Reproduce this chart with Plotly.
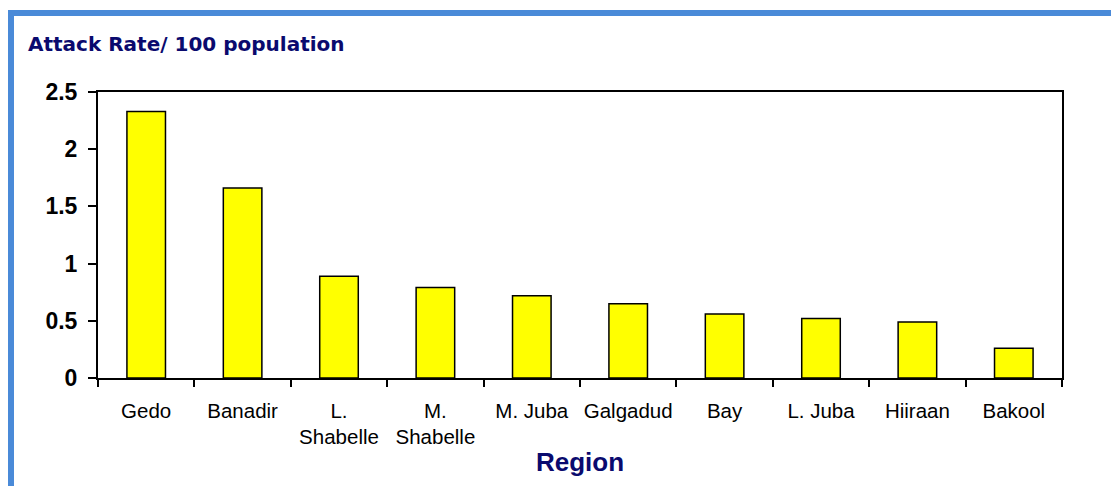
import plotly.graph_objects as go

regions = ["Gedo", "Banadir", "L.<br>Shabelle", "M.<br>Shabelle", "M. Juba",
           "Galgadud", "Bay", "L. Juba", "Hiiraan", "Bakool"]
attack_rate = [2.33, 1.66, 0.89, 0.79, 0.72, 0.65, 0.56, 0.52, 0.49, 0.26]
y_ticks = [0, 0.5, 1, 1.5, 2, 2.5]
y_tick_labels = ["0", "0.5", "1", "1.5", "2", "2.5"]

# page body has an 8px margin; figure coords = reference coords - 8
OFF = 8
W, H = 1119 - OFF, 486 - OFF
L, R, T, B = 98 - OFF, 57, 92 - OFF, 108
pw, ph = W - L - R, H - T - B

def px(x):
    return (x - OFF - L) / pw

def py(y):
    return (H - B - (y - OFF)) / ph

fig = go.Figure(go.Bar(
    x=regions, y=attack_rate,
    marker=dict(color="#FFFF00", line=dict(color="black", width=1.5)),
    width=0.4,
))

border = "#4A8AD8"
fig.add_shape(type="rect", xref="paper", yref="paper",
              x0=px(8), x1=px(14), y0=py(500), y1=py(10),
              fillcolor=border, line_width=0, layer="below")
fig.add_shape(type="rect", xref="paper", yref="paper",
              x0=px(8), x1=px(1130), y0=py(16), y1=py(10),
              fillcolor=border, line_width=0, layer="below")

fig.add_annotation(text="<b>Attack Rate/ 100 population</b>", xref="paper", yref="paper",
                   x=px(26), y=py(44), xanchor="left", yanchor="middle", showarrow=False,
                   font=dict(family="DejaVu Sans", size=20, color="#0A0A6E"))

fig.update_layout(
    width=W, height=H,
    margin=dict(l=L, r=R, t=T, b=B, autoexpand=False),
    plot_bgcolor="white", paper_bgcolor="white",
    showlegend=False,
    xaxis=dict(
        tickson="boundaries", ticks="outside", ticklen=7, tickwidth=1.5, tickcolor="black",
        showline=True, linecolor="black", linewidth=2, mirror=True,
        tickfont=dict(family="Liberation Sans, Arial", size=20.5, color="black"),
        tickangle=0, automargin=False,
        ticklabelstandoff=13,
        title=dict(text="<b>Region</b>", font=dict(family="Liberation Sans, Arial", size=26, color="#0A0A6E"),
                   standoff=6),
        showgrid=False,
    ),
    yaxis=dict(
        range=[0, 2.5], tickvals=y_ticks, ticktext=["<b>%s</b>" % t for t in y_tick_labels],
        ticks="outside", ticklen=8, tickwidth=1.5, tickcolor="black",
        showline=True, linecolor="black", linewidth=2, mirror=True,
        tickfont=dict(family="Liberation Sans, Arial", size=23, color="black"),
        ticklabelstandoff=6, automargin=False,
        showgrid=False, zeroline=False,
    ),
)

fig.write_html("out.html")
